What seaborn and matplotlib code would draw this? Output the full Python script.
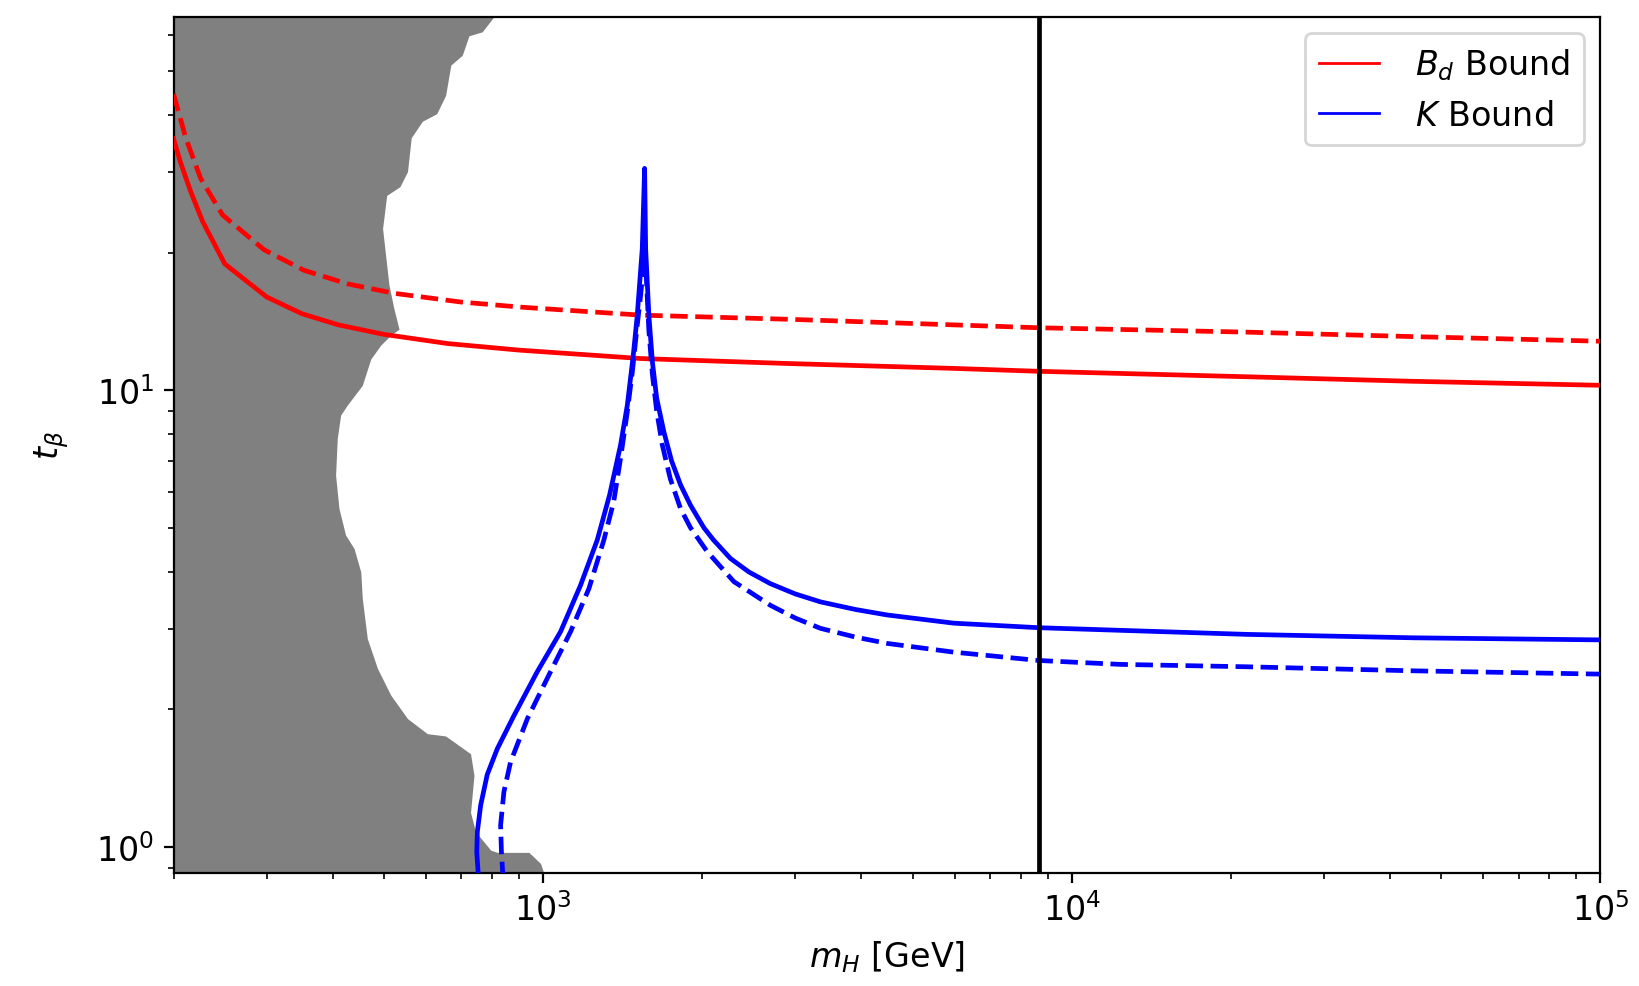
import numpy as np
import pandas as pd
import matplotlib
matplotlib.use("Agg")
import matplotlib.pyplot as plt
from matplotlib.lines import Line2D
import seaborn as sns

# ---------------- data ----------------
X_MIN, X_MAX = 200, 1e5
Y_MIN, Y_MAX = 0.877, 65.7
m_cut = 8656  # vertical line position

# B_d bound (solid / dashed)
bd_solid_x = [200, 206, 215.5, 227, 250, 300, 350, 410, 500, 660, 900, 1530, 2900, 6000, 8650, 21500, 44000, 100000]
bd_solid_y = [35.5, 31.6, 27.2, 23.4, 18.9, 16.0, 14.7, 13.9, 13.25, 12.65, 12.24, 11.73, 11.44, 11.16, 11.0, 10.7, 10.46, 10.25]

bd_dash_x = [200, 211, 225, 247.5, 296.6, 353, 426, 522, 698, 907, 1529, 2895, 5979, 8656, 21450, 44300, 100000]
bd_dash_y = [44.5, 35.6, 29.1, 24.2, 20.3, 18.3, 17.1, 16.3, 15.6, 15.2, 14.6, 14.3, 13.9, 13.7, 13.4, 13.1, 12.8]

# K bound (solid / dashed)
k_solid_x = [755, 749, 751, 762, 784, 819, 881, 975, 1079, 1177, 1266, 1336, 1401, 1443, 1481, 1507, 1540, 1556,
             1563, 1585, 1610, 1640, 1692, 1750, 1820, 1900, 2014, 2100, 2262, 2450, 2692, 3000, 3347, 3900,
             4476, 5979, 8656, 21450, 44300, 100000]
k_solid_y = [0.85, 0.976, 1.08, 1.235, 1.44, 1.64, 1.94, 2.42, 2.96, 3.74, 4.7, 5.9, 7.58, 9.27, 11.93, 14.6, 20.4, 30.6,
             20.4, 14.6, 11.5, 9.6, 8.11, 7.0, 6.2, 5.6, 5.0, 4.7, 4.28, 4.0, 3.77, 3.58, 3.44, 3.31,
             3.22, 3.09, 3.02, 2.92, 2.87, 2.84]

k_dash_x = [840, 834, 831, 843, 868, 934, 1033, 1127, 1221, 1303, 1360, 1401, 1443, 1475, 1507, 1529, 1545, 1558,
            1570, 1585, 1610, 1640, 1680, 1740, 1820, 1900, 2044, 2295, 2692, 3000, 3347, 3900, 4476, 5979,
            8656, 12360, 21450, 44300, 100000]
k_dash_y = [0.85, 0.976, 1.116, 1.32, 1.536, 1.91, 2.42, 2.96, 3.68, 4.7, 5.7, 7.09, 8.97, 10.97, 13.9, 16.1, 18.3, 20.5,
            17.0, 13.5, 10.8, 9.0, 7.6, 6.4, 5.5, 5.0, 4.43, 3.81, 3.38, 3.17, 3.01, 2.88, 2.79, 2.67,
            2.56, 2.51, 2.48, 2.43, 2.39]

# excluded (gray) region: right boundary x at each y (y descending)
gray_y = [70, 65.7, 60.9, 59.7, 54.1, 51.5, 44.2, 40.3, 38.8, 35.7, 30.1, 27.9, 26.7, 22.6, 17.0, 15.1, 13.6, 13.2,
          12.55, 11.7, 10.25, 9.27, 8.82, 7.84, 6.52, 5.51, 4.82, 4.50, 4.00, 3.50, 2.86, 2.46, 2.15, 1.91, 1.77,
          1.75, 1.60, 1.436, 1.19, 1.08, 0.984, 0.973, 0.973, 0.92, 0.877, 0.8]
gray_x = [815, 807, 767, 724, 703, 669, 654, 629, 591, 563, 554, 536, 506, 497, 511, 522, 534, 515,
          493, 472, 455, 426, 414, 408, 405, 411, 423, 439, 452, 455, 465, 486, 515, 554, 604,
          654, 729, 740, 729, 745, 796, 819, 940, 989, 1003, 1010]

labels = ["$B_d$ Bound", "$K$ Bound"]

# ---------------- plotting ----------------
fig = plt.figure(figsize=(1639 / 200, 987 / 200), dpi=200)
ax = fig.add_axes([0.1059, 0.1145, 0.9765 - 0.1059, 0.982 - 0.1145])

ax.fill_betweenx(gray_y, X_MIN / 2, gray_x, color="gray", lw=0, zorder=1)

LW = 1.7
def curve(x, y, color, ls):
    df = pd.DataFrame({"x": x, "y": y})
    sns.lineplot(data=df, x="x", y="y", sort=False, estimator=None, color=color,
                 linestyle=ls, lw=LW, ax=ax, zorder=3)

curve(bd_solid_x, bd_solid_y, "red", "-")
curve(bd_dash_x, bd_dash_y, "red", "--")
curve(k_solid_x, k_solid_y, "blue", "-")
curve(k_dash_x, k_dash_y, "blue", "--")

ax.axvline(m_cut, color="black", lw=LW, zorder=4)

ax.set_xscale("log")
ax.set_yscale("log")
ax.set_xlim(X_MIN, X_MAX)
ax.set_ylim(Y_MIN, Y_MAX)

ax.set_xlabel("$m_H$ [GeV]", fontsize=12)
ax.set_ylabel(r"$t_\beta$", fontsize=12, labelpad=9)
ax.tick_params(axis="both", which="major", labelsize=12)

handles = [Line2D([0], [0], color="red", lw=1.0), Line2D([0], [0], color="blue", lw=1.0)]
ax.legend(handles, labels, loc="upper right", fontsize=12, handlelength=1.8, handletextpad=1.1)

fig.savefig("out.png", dpi=200)
